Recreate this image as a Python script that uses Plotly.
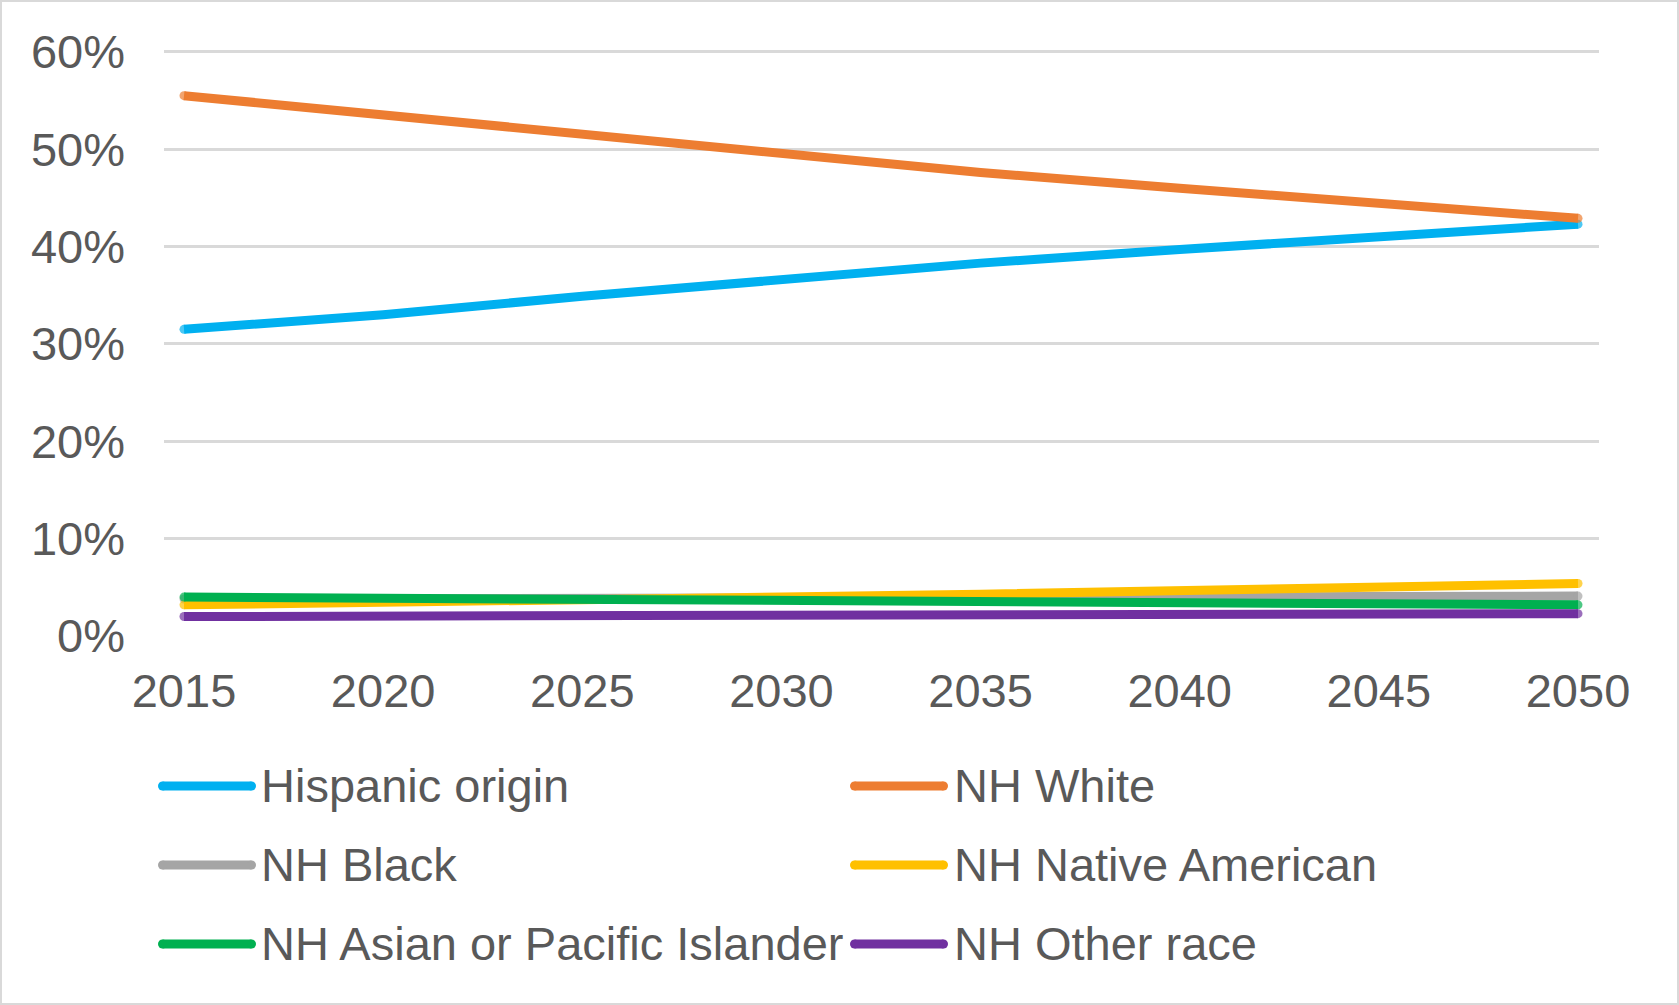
import plotly.graph_objects as go

# Projected population share by race/ethnicity, 2015-2050 (percent)
years = [2015, 2020, 2025, 2030, 2035, 2040, 2045, 2050]
hispanic = [31.5, 33.0, 34.9, 36.7, 38.3, 39.7, 41.0, 42.3]
nh_white = [55.5, 53.5, 51.5, 49.5, 47.6, 46.0, 44.4, 42.9]
nh_black = [3.8, 3.8, 3.85, 3.9, 3.95, 4.0, 4.05, 4.1]
nh_native = [3.2, 3.4, 3.7, 4.0, 4.3, 4.7, 5.0, 5.4]
nh_asian = [4.0, 3.9, 3.75, 3.6, 3.5, 3.4, 3.3, 3.2]
nh_other = [2.0, 2.05, 2.1, 2.15, 2.2, 2.2, 2.25, 2.3]

series_names = ["Hispanic origin", "NH White", "NH Black",
                "NH Native American", "NH Asian or Pacific Islander", "NH Other race"]
series_values = [hispanic, nh_white, nh_black, nh_native, nh_asian, nh_other]
colors = ["#00B0F0", "#ED7D31", "#A5A5A5", "#FFC000", "#00B050", "#7030A0"]

y_ticks = [0, 10, 20, 30, 40, 50, 60]
y_tick_labels = ["0%", "10%", "20%", "30%", "40%", "50%", "60%"]

W, H = 1679, 1005
L, R, T, B = 164, 80, 45.9, 368
PW, PH = W - L - R, H - T - B
FONT = "Liberation Sans, Arial, sans-serif"
TEXT = "#595959"
FS = 47
LW = 9


def px_x(x):
    return (x - L) / PW


def px_y(y):
    return 1 - (y - T) / PH


fig = go.Figure()
for name, vals, col in zip(series_names, series_values, colors):
    caps = [LW] + [0] * (len(vals) - 2) + [LW]
    fig.add_trace(go.Scatter(
        x=years, y=vals, name=name, mode="lines+markers",
        line=dict(color=col, width=LW),
        marker=dict(color=col, size=caps, line=dict(width=0)),
        showlegend=False,
    ))

# Legend drawn as two columns of swatches with labels
shapes = []
annotations = []
cols = [(158, 256, 259), (850, 948, 952)]
rows = [786, 865, 944]
for i, (name, col) in enumerate(zip(series_names, colors)):
    c0, c1, tx = cols[i % 2]
    ry = rows[i // 2]
    shapes.append(dict(type="line", xref="paper", yref="paper",
                       x0=px_x(c0 + 4.5), x1=px_x(c1 - 4.5), y0=px_y(ry), y1=px_y(ry),
                       line=dict(color=col, width=LW)))
    for cx in (c0 + 4.5, c1 - 4.5):
        shapes.append(dict(type="circle", xref="paper", yref="paper",
                           xsizemode="pixel", ysizemode="pixel",
                           xanchor=px_x(cx), yanchor=px_y(ry),
                           x0=-LW / 2, x1=LW / 2, y0=-LW / 2, y1=LW / 2,
                           fillcolor=col, line=dict(width=0)))
    annotations.append(dict(text=name, xref="paper", yref="paper",
                            x=px_x(tx), y=px_y(ry), xanchor="left", yanchor="middle",
                            showarrow=False, font=dict(family=FONT, size=FS, color=TEXT)))

# Light frame around the chart
shapes.append(dict(type="rect", xref="paper", yref="paper",
                   x0=px_x(1), x1=px_x(W - 1), y0=px_y(H - 1), y1=px_y(1),
                   line=dict(color="#D9D9D9", width=2), fillcolor="rgba(0,0,0,0)", layer="below"))

fig.update_layout(
    width=W, height=H,
    margin=dict(l=L, r=R, t=T, b=B, pad=0),
    paper_bgcolor="white", plot_bgcolor="white",
    font=dict(family=FONT, size=FS, color=TEXT),
    shapes=shapes, annotations=annotations,
    xaxis=dict(range=[2014.498, 2050.527], tickvals=years, ticktext=[str(y) for y in years],
               showgrid=False, zeroline=False, showline=False, ticks="",
               ticklabelstandoff=22, tickfont=dict(family=FONT, size=FS, color=TEXT)),
    yaxis=dict(range=[-0.1, 60.6], tickvals=y_ticks, ticktext=y_tick_labels,
               showgrid=True, gridcolor="#D9D9D9", gridwidth=3,
               zeroline=False, showline=False, ticks="",
               ticklabelstandoff=38, tickfont=dict(family=FONT, size=FS, color=TEXT)),
)

fig.write_html("out.html")
